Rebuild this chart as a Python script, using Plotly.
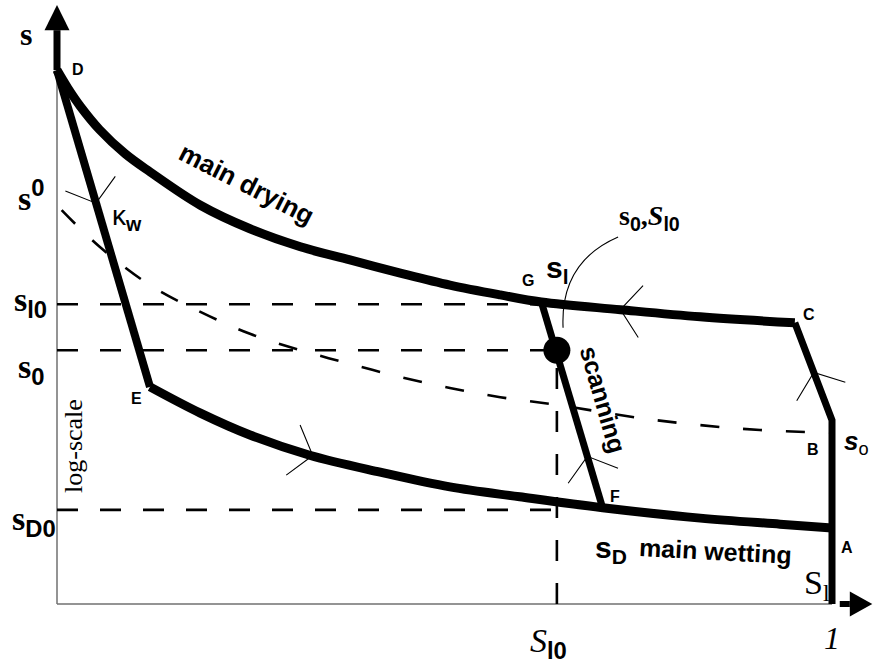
import numpy as np
import plotly.graph_objects as go

# ---------------------------------------------------------------
# Hysteresis loop of capillary pressure s vs. liquid saturation S_l
# (s axis is a log-scale, both axes normalised to [0, 1])
# ---------------------------------------------------------------

# main drying curve  D -> G -> C
dry_sl = [0.000, 0.014, 0.030, 0.055, 0.088, 0.120, 0.185, 0.249, 0.314,
          0.378, 0.443, 0.507, 0.572, 0.625, 0.727, 0.830, 0.952]
dry_s = [0.976, 0.943, 0.910, 0.867, 0.823, 0.790, 0.729, 0.686, 0.653,
         0.629, 0.605, 0.583, 0.565, 0.552, 0.538, 0.525, 0.514]

# main wetting curve  E -> F -> A
wet_sl = [0.120, 0.185, 0.249, 0.326, 0.417, 0.507, 0.597, 0.704, 0.830, 0.933, 1.000]
wet_s = [0.397, 0.349, 0.309, 0.272, 0.241, 0.214, 0.196, 0.176, 0.157, 0.146, 0.139]

# wetting path with slope kappa_w  D -> E
kw_sl = [0.000, 0.120]
kw_s = [0.976, 0.397]

# scanning path  G -> F
scan_sl = [0.625, 0.704]
scan_s = [0.552, 0.176]

# boundary path  C -> B -> (S_l = 1)
edge_sl = [0.952, 1.000, 1.000]
edge_s = [0.514, 0.336, 0.000]

# dashed s_o curve
so_sl = [0.006, 0.055, 0.120, 0.185, 0.249, 0.314, 0.378, 0.443,
         0.507, 0.572, 0.645, 0.752, 0.830, 0.907, 1.000]
so_s = [0.720, 0.653, 0.583, 0.534, 0.494, 0.464, 0.439, 0.415,
        0.395, 0.378, 0.364, 0.340, 0.327, 0.318, 0.313]

# reference levels
s_l0 = 0.548
s_0 = 0.464
s_D0 = 0.172
S_l0 = 0.645

SERIF = "Liberation Serif"
SANS = "Liberation Sans"
W, H = 873, 666
XR = [-0.07355, 1.05290]
YR = [-0.11335, 1.10420]
PX = W / (XR[1] - XR[0])   # pixels per unit along S_l
PY = H / (YR[1] - YR[0])   # pixels per unit along s

fig = go.Figure()


def line(x, y, width, color="black", dash=None, shape="linear"):
    fig.add_trace(go.Scatter(x=x, y=y, mode="lines", hoverinfo="skip",
                             line=dict(color=color, width=width, dash=dash, shape=shape)))


def chevron(x0, y0, x1, y1, t=0.5, arm=33, spread=52):
    """Thin open arrowhead on the segment (x0,y0)->(x1,y1), pointing to (x1,y1)."""
    tx, ty = x0 + t * (x1 - x0), y0 + t * (y1 - y0)
    back = np.arctan2((y1 - y0) * PY, (x1 - x0) * PX) + np.pi
    xs, ys = [], []
    for sgn in (1, -1):
        a = back + sgn * np.radians(spread)
        xs.append(tx + arm * np.cos(a) / PX)
        ys.append(ty + arm * np.sin(a) / PY)
    line([xs[0], tx, xs[1]], [ys[0], ty, ys[1]], 1.1)


def curve_chevron(xs, ys, xc, forward=True, dx=0.015):
    xa, xb = xc - dx, xc + dx
    ya, yb = np.interp(xa, xs, ys), np.interp(xb, xs, ys)
    if forward:
        chevron(xa, ya, xb, yb)
    else:
        chevron(xb, yb, xa, ya)


# thin axes
line([0, 1.0], [0, 0], 1.5, color="#707070")
line([0, 0], [0, kw_s[0]], 1.5, color="#707070")

# dashed reference lines
DASH = "21px,22px"
line([0, scan_sl[0]], [s_l0, s_l0], 2.6, dash=DASH)
line([0, S_l0], [s_0, s_0], 2.6, dash=DASH)
line([0, S_l0], [s_D0, s_D0], 2.6, dash=DASH)
line([S_l0, S_l0], [0, s_0], 2.6, dash=DASH)
line(so_sl, so_s, 2.6, dash="19px,24px", shape="spline")

# main loop and scanning paths
line(dry_sl, dry_s, 9, shape="spline")
line(wet_sl, wet_s, 9, shape="spline")
line(kw_sl, kw_s, 8)
line(scan_sl, scan_s, 7)
line(edge_sl, edge_s, 7)

# reversal point (S_l0, s_0)
fig.add_trace(go.Scatter(x=[S_l0], y=[s_0], mode="markers", hoverinfo="skip",
                         marker=dict(size=27, color="black")))

# direction arrows
chevron(kw_sl[0], kw_s[0], kw_sl[1], kw_s[1], t=0.42)
curve_chevron(wet_sl, wet_s, 0.330, forward=True)
curve_chevron(dry_sl, dry_s, 0.727, forward=False)
chevron(edge_sl[1], edge_s[1], edge_sl[0], edge_s[0], t=0.49)
chevron(scan_sl[1], scan_s[1], scan_sl[0], scan_s[0], t=0.25)

# axis stubs and arrowheads
y_top, y_base = 1.095, 1.049
x_tip, x_base = 1.052, 1.023
line([0, 0], [kw_s[0], y_base], 7)
line([1.010, x_base], [0, 0], 6)
hw, hh = 12.5 / PX, 12.5 / PY
shapes = [
    dict(type="path", path=f"M {-hw},{y_base} L {hw},{y_base} L 0,{y_top} Z",
         fillcolor="black", line=dict(width=0)),
    dict(type="path", path=f"M {x_base},{hh} L {x_base},{-hh} L {x_tip},0 Z",
         fillcolor="black", line=dict(width=0)),
    # leader from the label to the reversal point
    dict(type="path", path="M 0.724,0.671 Q 0.649,0.625 0.653,0.505",
         line=dict(color="black", width=1.1)),
]

SUBSANS = "<span style='font-family:Liberation Sans;font-weight:bold'>{}</span>"

ann = []


def label(x, y, text, size, family=SANS, angle=0):
    ann.append(dict(x=x, y=y, text=text, showarrow=False, xanchor="center", yanchor="middle",
                    textangle=angle, font=dict(family=family, size=size, color="black")))


label(-0.040, 1.042, "<b>s</b>", 32, SERIF)
label(-0.034, 0.746, "<b>s</b><sup>" + SUBSANS.format("0") + "</sup>", 34, SERIF)
label(-0.034, 0.552, "<b>s</b><sub>" + SUBSANS.format("l0") + "</sub>", 34, SERIF)
label(-0.034, 0.430, "<b>s</b><sub>" + SUBSANS.format("0") + "</sub>", 34, SERIF)
label(-0.030, 0.152, "<b>s</b><sub>" + SUBSANS.format("D0") + "</sub>", 34, SERIF)
label(0.090, 0.706, "κ<sub><b>w</b></sub>", 28, SANS)
label(0.022, 0.289, "log-scale", 26, SERIF, angle=-90)

label(0.027, 0.978, "<b>D</b>", 16)
label(0.103, 0.375, "<b>E</b>", 16)
label(0.608, 0.592, "<b>G</b>", 16)
label(0.970, 0.530, "<b>C</b>", 16)
label(0.975, 0.282, "<b>B</b>", 16)
label(0.720, 0.196, "<b>F</b>", 16)
label(1.019, 0.104, "<b>A</b>", 16)

label(0.245, 0.768, "<b>main drying</b>", 26, angle=27)
label(0.705, 0.373, "<b>scanning</b>", 25, angle=74)
label(0.850, 0.097, "<b>main wetting</b>", 25, angle=3)
label(0.715, 0.099, "<b>s</b><sub><b>D</b></sub>", 30)
label(0.646, 0.611, "<b>s</b><sub><b>l</b></sub>", 30)
label(1.031, 0.296, "<i><b>s</b></i><sub>o</sub>", 26)
label(0.764, 0.707, "<b>s</b><sub>" + SUBSANS.format("0") + "</sub><b>,<i>S</i></b><sub>"
      + SUBSANS.format("l0") + "</sub>", 28, SERIF)

label(0.981, 0.035, "S<sub>l</sub>", 34, SERIF)
label(0.634, -0.071, "<i>S</i><sub>" + SUBSANS.format("l0") + "</sub>", 34, SERIF)
label(1.000, -0.062, "<i>1</i>", 32, SERIF)

fig.update_layout(
    width=W, height=H, margin=dict(l=0, r=0, t=0, b=0),
    paper_bgcolor="white", plot_bgcolor="white", showlegend=False,
    xaxis=dict(range=XR, visible=False, fixedrange=True),
    yaxis=dict(range=YR, visible=False, fixedrange=True),
    shapes=shapes, annotations=ann,
)

fig.write_html("out.html")
